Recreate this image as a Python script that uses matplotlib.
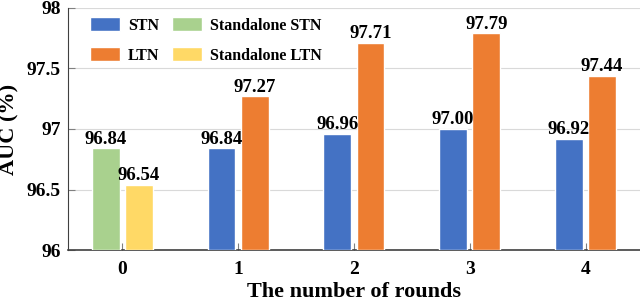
import numpy as np
import matplotlib.pyplot as plt

plt.rcParams['font.family'] = ['Liberation Serif', 'DejaVu Serif']
plt.rcParams['font.weight'] = 'bold'

rounds = ['0', '1', '2', '3', '4']
stn = [None, 96.84, 96.96, 97.00, 96.92]
ltn = [None, 97.27, 97.71, 97.79, 97.44]
standalone_stn = 96.84
standalone_ltn = 96.54

c_stn = '#4472C4'
c_ltn = '#ED7D31'
c_sstn = '#A9D18E'
c_sltn = '#FFD966'

fig = plt.figure(figsize=(6.4, 3.02), dpi=100)
ax = fig.add_axes([0.106, 0.172, 0.894, 0.802])

x = np.arange(len(rounds))
w = 0.24
off = 0.143
base = 96

def label(b, v):
    ax.text(b.get_x() + b.get_width() / 2, v + 0.006, f'{v:.2f}',
            ha='center', va='bottom', fontsize=13.5, fontweight='bold')

xs = x[1:]
b1 = ax.bar(xs - off, np.array(stn[1:]) - base, w, bottom=base, color=c_stn,
            edgecolor='white', linewidth=1, label='STN', zorder=3)
b2 = ax.bar(xs + off, np.array(ltn[1:]) - base, w, bottom=base, color=c_ltn,
            edgecolor='white', linewidth=1, label='LTN', zorder=3)
b3 = ax.bar([x[0] - off], [standalone_stn - base], w, bottom=base, color=c_sstn,
            edgecolor='white', linewidth=1, label='Standalone STN', zorder=3)
b4 = ax.bar([x[0] + off], [standalone_ltn - base], w, bottom=base, color=c_sltn,
            edgecolor='white', linewidth=1, label='Standalone LTN', zorder=3)

for bars, vals in [(b1, stn[1:]), (b2, ltn[1:]), (b3, [standalone_stn]), (b4, [standalone_ltn])]:
    for b, v in zip(bars, vals):
        label(b, v)

ax.set_ylim(96, 98)
ax.set_xlim(-0.47, 4.47)
ax.set_yticks([96, 96.5, 97, 97.5, 98])
ax.set_yticklabels(['96', '96.5', '97', '97.5', '98'])
ax.set_xticks(x)
ax.set_xticklabels(rounds)
ax.tick_params(axis='both', labelsize=14, direction='in', length=5,
               width=0.8, color='#808080')
ax.tick_params(axis='y', pad=5)
ax.tick_params(axis='x', pad=8)
ax.yaxis.grid(True, color='#D9D9D9', linewidth=0.8, zorder=0)
ax.set_axisbelow(True)
for s in ['top', 'right']:
    ax.spines[s].set_visible(False)
ax.spines['left'].set_color('#404040')
ax.spines['bottom'].set_color('#404040')
ax.spines['bottom'].set_linewidth(1.2)

ax.set_ylabel('AUC (%)', fontsize=16, fontweight='bold')
ax.yaxis.set_label_coords(-0.084, 0.5)
ax.set_xlabel('The number of rounds', fontsize=16, fontweight='bold', labelpad=3)

ax.legend(handles=[b1, b2, b3, b4], labels=['STN', 'LTN', 'Standalone STN', 'Standalone LTN'],
          ncol=2, frameon=False, loc='upper left', bbox_to_anchor=(0.013, 1.02),
          fontsize=11.5, handlelength=1.9, handleheight=0.95, columnspacing=0.8,
          handletextpad=0.5, labelspacing=0.85)

fig.savefig('out.png', dpi=100)
